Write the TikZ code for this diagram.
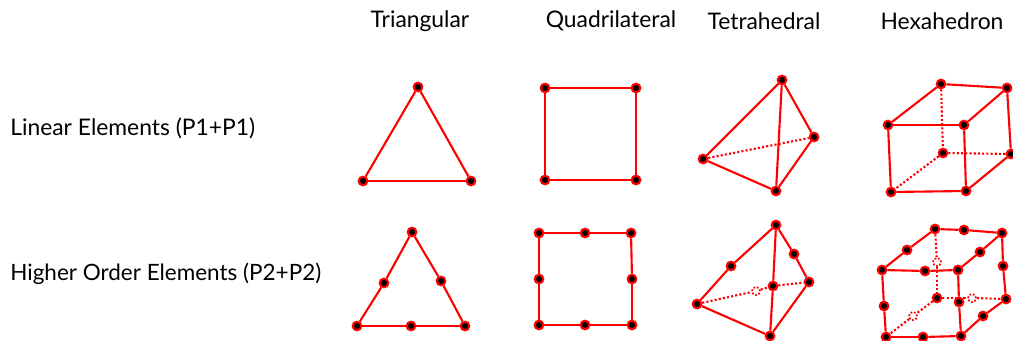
\documentclass[tikz,border=0pt]{standalone}
\usepackage{fontspec}
\setmainfont{Lato}
\usetikzlibrary{backgrounds}
\tikzset{
  vtx/.style={circle,draw=red,fill=black,line width=1.2pt,minimum size=4.9pt,inner sep=0pt},
  hollowvtx/.style={circle,draw=red,fill=white,densely dotted,line width=1pt,minimum size=4.6pt,inner sep=0pt},
  edge/.style={red,line width=1.2pt},
  hidden/.style={red,line width=1.2pt,dash pattern=on 1.2pt off 1.2pt},
  lbl/.style={inner sep=0pt,font=\fontsize{13}{15}\selectfont}
}
\begin{document}
\begin{tikzpicture}[x=0.02cm,y=-0.02cm]
\useasboundingbox (0,0) rectangle (1013,341);

\node[lbl] (colTri) at (420,21) {Triangular};
\node[lbl] (colQuad) at (611,21) {Quadrilateral};
\node[lbl] (colTet) at (764,21) {Tetrahedral};
\node[lbl] (colHex) at (942,21) {Hexahedron};
\node[lbl,anchor=west] (rowLin) at (10,128) {Linear Elements (P1+P1)};
\node[lbl,anchor=west] (rowHigh) at (10,274) {\fontsize{12.8}{15}\selectfont Higher Order Elements (P2+P2)};

% first row
\foreach \n/\p in {triA/{418,87},triB/{363,181},triC/{471,181},
  quadA/{545,88},quadB/{636,88},quadC/{636,180},quadD/{545,180},
  tetA/{782,80},tetB/{703,159},tetC/{814,137},tetD/{776,191},
  hexA/{941,84},hexB/{1007,88},hexC/{888,125},hexD/{964,125},
  hexE/{943,153},hexF/{1011,154},hexG/{891,192},hexH/{966,191}} {
  \node[vtx] (\n) at (\p) {};
}
\foreach \a/\b in {triA/triB,triB/triC,triC/triA,
  quadA/quadB,quadB/quadC,quadC/quadD,quadD/quadA,
  tetA/tetB,tetB/tetD,tetD/tetC,tetC/tetA,tetA/tetD,
  hexA/hexB,hexA/hexC,hexB/hexD,hexC/hexD,hexC/hexG,hexD/hexH,hexG/hexH,hexH/hexF,hexB/hexF} {
  \draw[edge] (\a) -- (\b);
}
\foreach \a/\b in {tetB/tetC,hexA/hexE,hexE/hexF,hexE/hexG} {
  \draw[hidden] (\a) -- (\b);
}

% second row
\foreach \n/\p in {triHa/{412,232},triHb/{384,283},triHc/{441,281},triHd/{357,326},triHe/{411,326},triHf/{465,326},
  quadHa/{539,233},quadHb/{585,233},quadHc/{631,233},quadHd/{539,279},quadHe/{632,279},quadHf/{539,325},quadHg/{585,325},quadHh/{632,325},
  tetHa/{776,225},tetHb/{731,266},tetHc/{794,254},tetHd/{809,282},tetHe/{697,304},tetHf/{770,336},tetHg/{773,286},
  hexHa/{935,229},hexHb/{964,230},hexHc/{1002,233},hexHd/{907,250},hexHe/{980,252},
  hexHf/{882,270},hexHg/{925,271},hexHh/{958,270},hexHi/{937,298},hexHj/{1006,299},
  hexHk/{1003,266},hexHl/{884,306},hexHm/{959,302},hexHn/{886,337},hexHo/{923,337},hexHp/{961,336},hexHq/{983,316}} {
  \node[vtx] (\n) at (\p) {};
}
\foreach \n/\p in {tetHh/{756,291},hexHr/{937,262},hexHs/{972,298},hexHt/{913,316}} {
  \node[hollowvtx] (\n) at (\p) {};
}
\foreach \a/\b in {triHa/triHb,triHb/triHd,triHd/triHe,triHe/triHf,triHf/triHc,triHc/triHa,
  quadHa/quadHb,quadHb/quadHc,quadHc/quadHe,quadHe/quadHh,quadHh/quadHg,quadHg/quadHf,quadHf/quadHd,quadHd/quadHa,
  tetHa/tetHb,tetHb/tetHe,tetHe/tetHf,tetHf/tetHd,tetHd/tetHc,tetHc/tetHa,tetHa/tetHg,tetHg/tetHf,
  hexHa/hexHb,hexHb/hexHc,hexHa/hexHd,hexHd/hexHf,hexHc/hexHe,hexHe/hexHh,hexHf/hexHg,hexHg/hexHh,
  hexHc/hexHk,hexHk/hexHj,hexHf/hexHl,hexHl/hexHn,hexHh/hexHm,hexHm/hexHp,hexHn/hexHo,hexHo/hexHp,hexHp/hexHq,hexHq/hexHj} {
  \draw[edge] (\a) -- (\b);
}
\begin{scope}[on background layer]
\foreach \a/\b in {tetHe/tetHh,tetHh/tetHg,tetHg/tetHd,
  hexHa/hexHr,hexHr/hexHi,hexHi/hexHs,hexHs/hexHj,hexHi/hexHt,hexHt/hexHn} {
  \draw[hidden] (\a) -- (\b);
}
\end{scope}
\end{tikzpicture}
\end{document}
